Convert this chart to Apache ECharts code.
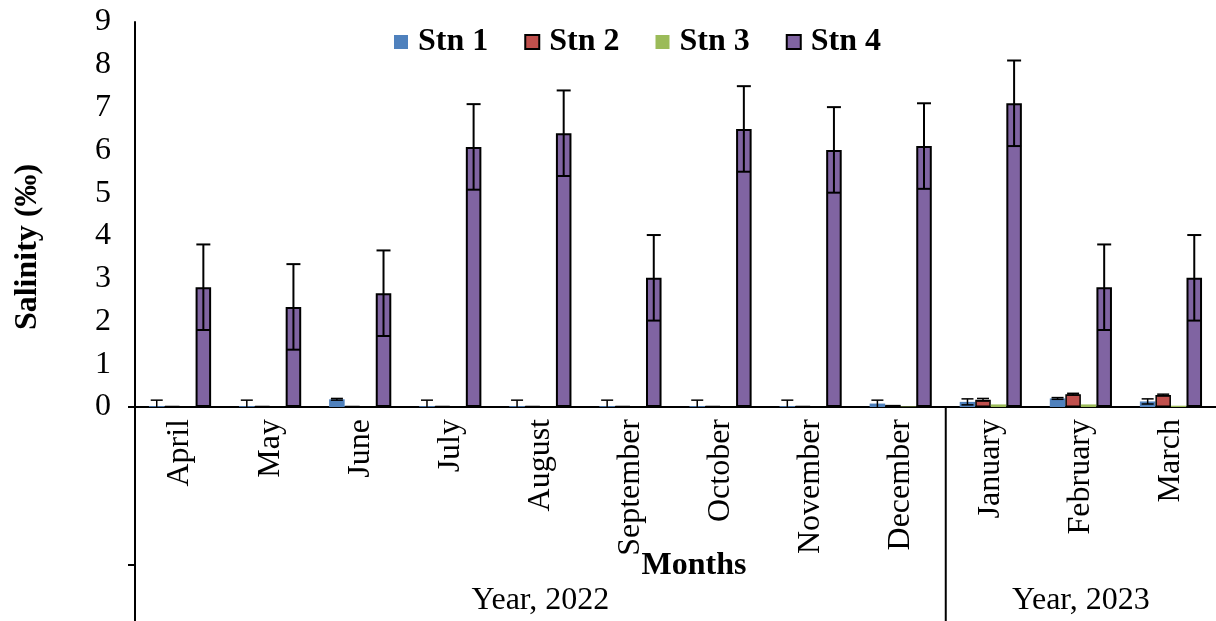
<!DOCTYPE html>
<html>
<head>
<meta charset="utf-8">
<script src="https://cdn.jsdelivr.net/npm/echarts@6/dist/echarts.min.js"></script>
<style>
  html, body { margin: 0; padding: 0; background: #fff; }
  #chart { width: 1216px; height: 621px; }
</style>
</head>
<body>
<div id="chart"></div>
<script>
// Monthly salinity (‰) at four stations, April 2022 – March 2023
const months = ['April', 'May', 'June', 'July', 'August', 'September',
  'October', 'November', 'December', 'January', 'February', 'March'];
const yearGroups = ['Year, 2022', 'Year, 2023'];
const monthsIn2022 = 9;

const stn1 = [0.02, 0.02, 0.18, 0.02, 0.02, 0.02, 0.02, 0.02, 0.08, 0.12, 0.20, 0.13];
const stn2 = [0.01, 0.01, 0.01, 0.01, 0.01, 0.01, 0.01, 0.01, 0.05, 0.17, 0.30, 0.28];
const stn3 = [0, 0, 0, 0, 0, 0, 0, 0, 0.01, 0.06, 0.06, 0.03];
const stn4 = [2.80, 2.34, 2.66, 6.08, 6.40, 3.02, 6.50, 6.01, 6.10, 7.10, 2.80, 3.02];

// Error bar half-ranges (±)
const err1 = [0.14, 0.14, 0.02, 0.14, 0.14, 0.14, 0.14, 0.14, 0.08, 0.07, 0.02, 0.06];
const err2 = [0, 0, 0, 0, 0, 0, 0, 0, 0, 0.03, 0.02, 0.02];
const err3 = [0, 0, 0, 0, 0, 0, 0, 0, 0, 0, 0, 0];
const err4 = [1.0, 1.0, 1.0, 1.0, 1.0, 1.0, 1.0, 1.0, 1.0, 1.0, 1.0, 1.0];

const yTicks = { min: 0, max: 9, interval: 1 };

const stations = [
  { name: 'Stn 1', values: stn1, errors: err1, color: '#4F81BD', border: null, borderWidth: 0, errWidth: 1.5, cap: 6 },
  { name: 'Stn 2', values: stn2, errors: err2, color: '#C0504D', border: '#000', borderWidth: 1.5, errWidth: 1.5, cap: 6 },
  { name: 'Stn 3', values: stn3, errors: err3, color: '#9BBB59', border: null, borderWidth: 0, errWidth: 1.5, cap: 6 },
  { name: 'Stn 4', values: stn4, errors: err4, color: '#8064A2', border: '#000', borderWidth: 2, errWidth: 2, cap: 7 }
];

const FONT = "'Liberation Serif', 'Times New Roman', serif";
const FS = 32;
const CAT_GAP = 0.31;

const barSeries = stations.map(s => ({
  name: s.name,
  type: 'bar',
  data: s.values,
  barGap: '0%',
  barCategoryGap: (CAT_GAP * 100) + '%',
  barMinHeight: s.border ? 1 : 0,
  itemStyle: {
    color: s.color,
    borderColor: s.border || s.color,
    borderWidth: s.borderWidth
  },
  emphasis: { disabled: true },
  z: 2
}));

const errorSeries = stations.map((s, si) => ({
  name: s.name + ' error',
  type: 'custom',
  z: 5,
  silent: true,
  data: s.values.map((v, i) => [i, v, s.errors[i], si]),
  encode: { x: 0, y: 1 },
  renderItem: function (params, api) {
    const cat = api.value(0), val = api.value(1), e = api.value(2), idx = api.value(3);
    if (!e) return null;
    const band = api.size([1, 0])[0];
    const bw = band * (1 - CAT_GAP) / stations.length;
    const cx = api.coord([cat, 0])[0] + (idx - (stations.length - 1) / 2) * bw;
    const top = api.coord([cat, val + e])[1];
    const lowVal = val - e;
    const bot = api.coord([cat, Math.max(0, lowVal)])[1];
    const st = stations[idx];
    const style = { stroke: '#000', lineWidth: st.errWidth };
    const kids = [
      { type: 'line', shape: { x1: cx, y1: top, x2: cx, y2: bot }, style: style },
      { type: 'line', shape: { x1: cx - st.cap, y1: top, x2: cx + st.cap, y2: top }, style: style }
    ];
    if (lowVal > 0) {
      kids.push({ type: 'line', shape: { x1: cx - st.cap, y1: bot, x2: cx + st.cap, y2: bot }, style: style });
    }
    return { type: 'group', children: kids };
  }
}));

const option = {
  animation: false,
  backgroundColor: '#fff',
  textStyle: { fontFamily: FONT },
  legend: {
    data: stations.map(s => s.name),
    left: 389,
    top: 21,
    icon: 'rect',
    itemWidth: 14,
    itemHeight: 14,
    itemGap: 36,
    selectedMode: false,
    textStyle: { fontFamily: FONT, fontSize: FS, fontWeight: 'bold', color: '#000', padding: [0, 0, 0, 5] }
  },
  grid: { left: 135, right: -4, top: 22, bottom: 214, containLabel: false },
  xAxis: {
    type: 'category',
    data: months,
    axisLine: { lineStyle: { color: '#000', width: 2 } },
    axisTick: { show: false },
    axisLabel: { rotate: 90, fontSize: FS, fontFamily: FONT, color: '#000', margin: 12, interval: 0 },
    splitLine: { show: false }
  },
  yAxis: {
    type: 'value',
    min: yTicks.min,
    max: yTicks.max,
    interval: yTicks.interval,
    axisLine: { show: true, lineStyle: { color: '#000', width: 2 } },
    axisTick: { show: false },
    axisLabel: { fontSize: FS, fontFamily: FONT, color: '#000', margin: 24 },
    splitLine: { show: false }
  },
  series: barSeries.concat(errorSeries)
};

const chart = echarts.init(document.getElementById('chart'), null, { renderer: 'canvas' });
chart.setOption(option);

// Two-level category axis: year groups beneath the month labels
function decorate() {
  const c0 = chart.convertToPixel({ xAxisIndex: 0 }, months[0]);
  const c1 = chart.convertToPixel({ xAxisIndex: 0 }, months[1]);
  const band = c1 - c0;
  const left = c0 - band / 2;
  const split = left + band * monthsIn2022;
  const right = left + band * months.length;
  const y0 = chart.convertToPixel({ yAxisIndex: 0 }, 0);
  const bottom = 621;
  const rowSplit = 565;
  const line = { stroke: '#000', lineWidth: 2 };
  const txt = (t, x, y, extra) => Object.assign({
    type: 'text', x: x, y: y,
    style: { text: t, fontFamily: FONT, fontSize: FS, fill: '#000', textAlign: 'center', textVerticalAlign: 'middle' }
  }, extra || {});
  chart.setOption({
    graphic: [
      { type: 'line', shape: { x1: left, y1: y0, x2: left, y2: bottom }, style: line },
      { type: 'line', shape: { x1: split, y1: y0, x2: split, y2: bottom }, style: line },
      { type: 'line', shape: { x1: left - 7, y1: y0, x2: left, y2: y0 }, style: line },
      { type: 'line', shape: { x1: left - 7, y1: rowSplit, x2: left, y2: rowSplit }, style: line },
      txt(yearGroups[0], (left + split) / 2, 601),
      txt(yearGroups[1], (split + right) / 2, 601),
      {
        type: 'text', x: 694, y: 566, z: 10,
        style: { text: 'Months', fontFamily: FONT, fontSize: FS, fontWeight: 'bold', fill: '#000', textAlign: 'center', textVerticalAlign: 'middle' }
      },
      {
        type: 'text', x: 28, y: 247, rotation: Math.PI / 2,
        style: { text: 'Salinity (‰)', fontFamily: FONT, fontSize: FS, fontWeight: 'bold', fill: '#000', textAlign: 'center', textVerticalAlign: 'middle' }
      }
    ]
  });
}
decorate();
</script>
</body>
</html>
